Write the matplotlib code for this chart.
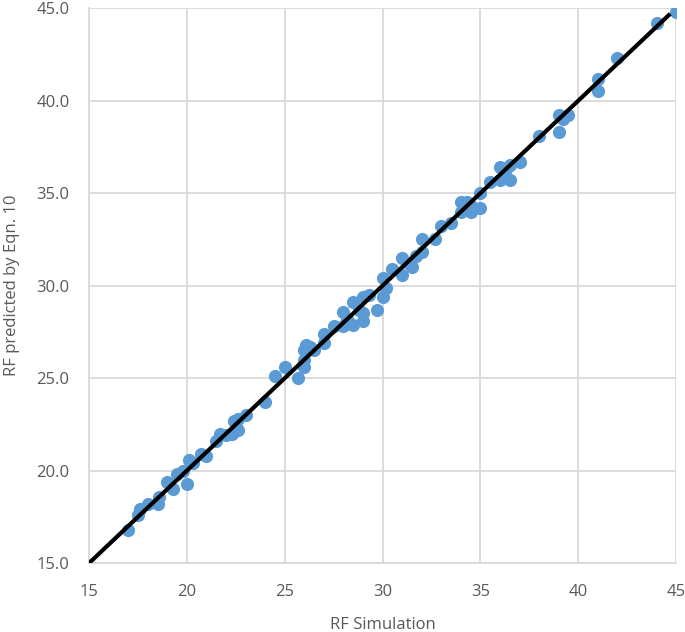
import matplotlib.pyplot as plt

# RF simulation vs RF predicted by Eqn. 10
rf_sim = [17.0, 17.5, 17.6, 18.0, 18.5, 18.6, 19.0, 19.3, 19.5, 19.8,
          20.0, 20.1, 20.3, 20.7, 21.0, 21.5, 21.7, 22.0, 22.3, 22.4,
          22.6, 22.6, 23.0, 24.0, 24.5, 25.0, 25.7, 26.0, 26.0, 26.0,
          26.1, 26.3, 26.5, 27.0, 27.0, 27.5, 28.0, 28.0, 28.2, 28.5,
          28.5, 28.8, 29.0, 29.0, 29.0, 29.3, 29.7, 30.0, 30.0, 30.2,
          30.5, 31.0, 31.0, 31.3, 31.5, 31.7, 32.0, 32.0, 32.7, 33.0,
          33.5, 34.0, 34.0, 34.3, 34.5, 34.5, 35.0, 35.0, 35.5, 36.0,
          36.0, 36.3, 36.5, 36.5, 37.0, 38.0, 39.0, 39.0, 39.2, 39.5,
          41.0, 41.0, 42.0, 44.0, 45.0]
rf_pred = [16.8, 17.6, 17.9, 18.2, 18.2, 18.6, 19.4, 19.0, 19.8, 20.0,
           19.3, 20.6, 20.4, 20.9, 20.8, 21.6, 22.0, 21.9, 22.0, 22.7,
           22.8, 22.2, 23.0, 23.7, 25.1, 25.6, 25.0, 25.6, 26.5, 26.0,
           26.8, 26.7, 26.5, 26.9, 27.4, 27.8, 28.6, 27.8, 28.2, 27.9,
           29.1, 28.7, 29.4, 28.1, 28.5, 29.5, 28.7, 29.4, 30.4, 29.9,
           30.9, 31.5, 30.6, 31.2, 31.0, 31.6, 32.5, 31.8, 32.5, 33.2,
           33.4, 34.5, 34.0, 34.5, 34.0, 34.3, 34.2, 35.0, 35.6, 35.7,
           36.4, 36.3, 35.7, 36.5, 36.7, 38.1, 39.2, 38.3, 39.0, 39.2,
           41.2, 40.5, 42.3, 44.2, 44.8]
fit_x = [15, 44.7]
fit_y = [15, 44.7]

gray = '#595959'
plt.rcParams['font.family'] = ['Open Sans', 'DejaVu Sans']

fig = plt.figure(figsize=(6.85, 6.32), dpi=100)
ax = fig.add_axes([0.130, 0.109, 0.857, 0.878])

ax.scatter(rf_sim, rf_pred, s=90, color='#5B9BD5', zorder=3, linewidths=0)
ax.plot(fit_x, fit_y, color='black', linewidth=3, zorder=4, solid_capstyle='butt')

ax.set_xlim(15, 45)
ax.set_ylim(15, 45)
ax.set_xticks(range(15, 46, 5))
ax.set_yticks(range(15, 46, 5))
ax.set_yticklabels(['%.1f' % v for v in range(15, 46, 5)])
ax.grid(True, color='#D9D9D9', linewidth=1.3, zorder=0)
ax.set_axisbelow(True)

for s in ['top', 'right']:
    ax.spines[s].set_visible(False)
for s in ['left', 'bottom']:
    ax.spines[s].set_color('#D9D9D9')
    ax.spines[s].set_linewidth(1.3)

ax.tick_params(length=0, labelsize=12, labelcolor=gray)
ax.tick_params(axis='x', pad=15)
ax.tick_params(axis='y', pad=14)
ax.set_xlabel('RF Simulation', fontsize=12, color=gray, labelpad=12)
ax.set_ylabel('RF predicted by Eqn. 10', fontsize=12, color=gray, labelpad=12)

plt.savefig('out.png', dpi=100)
